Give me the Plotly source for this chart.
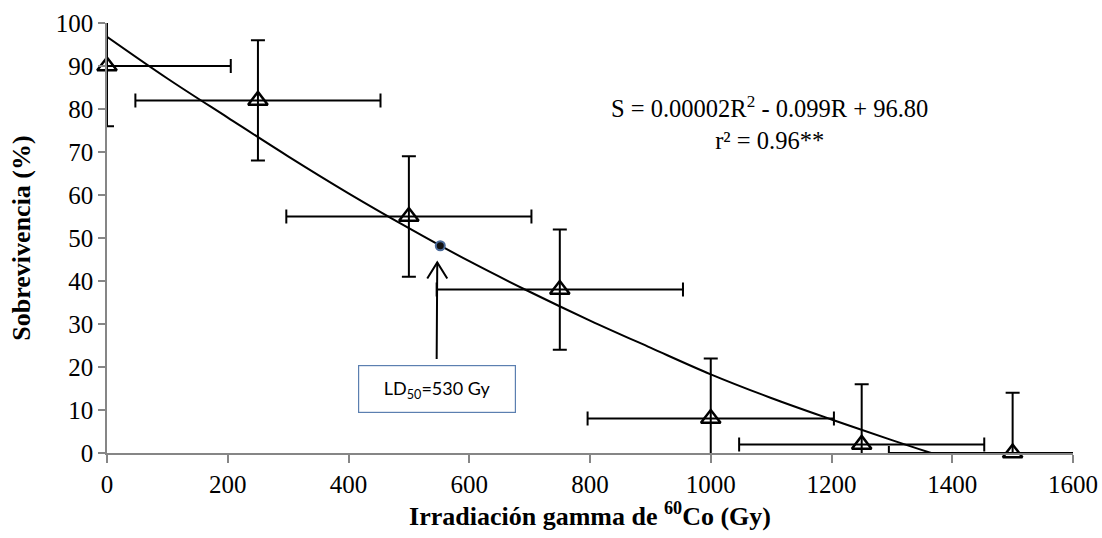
import plotly.graph_objects as go

# Observed data
dose = [0, 250, 500, 750, 1000, 1250, 1500]
survival = [90, 82, 55, 38, 8, 2, 0]
err_y = [14, 14, 14, 14, 14, 14, 14]
err_x = [205, 203, 203, 204, 204, 203, 205]

# Trend curve
curve_x = [0, 100, 200, 300, 400, 500, 600, 700, 800, 900, 1000, 1100, 1200, 1300, 1365]
curve_y = [96.8, 87.1, 78.0, 69.0, 60.4, 52.3, 44.6, 37.5, 30.8, 24.5, 18.3, 12.8, 7.8, 3.0, 0.0]

ld50_x = [552]
ld50_y = [48.2]

x_ticks = [0, 200, 400, 600, 800, 1000, 1200, 1400, 1600]
y_ticks = [0, 10, 20, 30, 40, 50, 60, 70, 80, 90, 100]

serif = "Liberation Serif"

fig = go.Figure()

fig.add_trace(go.Scatter(
    x=curve_x, y=curve_y, mode="lines", line=dict(color="black", width=2, shape="spline"),
    hoverinfo="skip", showlegend=False, cliponaxis=True))

fig.add_trace(go.Scatter(
    x=dose, y=survival, mode="markers", marker=dict(size=1, color="rgba(0,0,0,0)"),
    error_y=dict(type="data", array=err_y, color="black", thickness=2, width=7),
    error_x=dict(type="data", array=err_x, color="black", thickness=2, width=7),
    showlegend=False, cliponaxis=True))

fig.add_trace(go.Scatter(
    x=dose, y=survival, mode="markers",
    marker=dict(symbol="triangle-up-open", size=17, color="black", line=dict(width=2.5, color="black")),
    showlegend=False, cliponaxis=False))

fig.add_trace(go.Scatter(
    x=ld50_x, y=ld50_y, mode="markers",
    marker=dict(symbol="circle", size=9, color="#111111", line=dict(width=2, color="#4a6a9a")),
    showlegend=False))

# arrow shaft
fig.add_annotation(x=547, y=44.3, ax=546, ay=21.5, xref="x", yref="y", axref="x", ayref="y",
                   text="", showarrow=True, arrowhead=0, arrowwidth=2, arrowcolor="black")
# open V arrow head
fig.add_shape(type="path", xref="x", yref="y", xsizemode="pixel", ysizemode="pixel",
              xanchor=547, yanchor=44.3, path="M -10,-16 L 0,0 L 10,-16",
              line=dict(color="black", width=2))

fig.add_annotation(x=547, y=15.0, xref="x", yref="y", text="LD<sub>50</sub>=530 Gy", showarrow=False,
                   font=dict(family="Lato, Open Sans, sans-serif", size=18, color="black"),
                   bordercolor="#5b7fb0", borderwidth=1.2, borderpad=2, bgcolor="white",
                   width=152, height=42)

fig.add_annotation(x=1098, y=76.7, xref="x", yref="y", showarrow=False,
                   text="S = 0.00002R<sup>2</sup> - 0.099R + 96.80<br>r² = 0.96**",
                   font=dict(family=serif, size=24.5, color="black"), align="center")

fig.update_layout(
    width=1102, height=538, margin=dict(l=107, r=29, t=23, b=85),
    plot_bgcolor="white", paper_bgcolor="white",
    font=dict(family=serif, size=25, color="black"),
)
fig.update_xaxes(range=[0, 1600], tickvals=x_ticks, ticks="outside", ticklen=8, tickcolor="#868686",
                 tickwidth=1.5, showline=True, linecolor="#868686", linewidth=1.5, showgrid=False,
                 zeroline=False, automargin=False,
                 tickfont=dict(family=serif, size=25),
                 title=dict(text="<b>Irradiación gamma de <sup>60</sup>Co (Gy)</b>",
                            font=dict(family=serif, size=26), standoff=8))
fig.update_yaxes(range=[0, 100], tickvals=y_ticks, ticks="outside", ticklen=7, tickcolor="#868686",
                 tickwidth=1.5, showline=True, linecolor="#868686", linewidth=1.5, showgrid=False,
                 zeroline=False, automargin=False,
                 tickfont=dict(family=serif, size=25),
                 title=dict(text="<b>Sobrevivencia (%)</b>", font=dict(family=serif, size=26), standoff=18))

fig.write_html("out.html", config={"displayModeBar": False},
               post_script="document.body.style.margin='0';document.body.style.overflow='hidden';")
